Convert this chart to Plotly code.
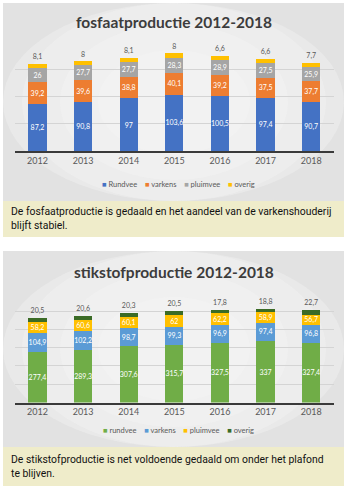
import plotly.graph_objects as go

years = ["2012", "2013", "2014", "2015", "2016", "2017", "2018"]

# fosfaatproductie
f_names = ["Rundvee", "varkens", "pluimvee", "overig"]
f_rundvee = [87.2, 90.8, 97, 103.6, 100.5, 97.4, 90.7]
f_varkens = [39.2, 39.6, 38.8, 40.1, 39.2, 37.5, 37.7]
f_pluimvee = [26, 27.7, 27.7, 28.3, 28.9, 27.5, 25.9]
f_overig = [8.1, 8, 8.1, 8, 6.6, 6.6, 7.7]
f_colors = ["#4472C4", "#ED7D31", "#A5A5A5", "#FFC000"]

# stikstofproductie
s_names = ["rundvee", "varkens", "pluimvee", "overig"]
s_rundvee = [277.4, 289.3, 307.6, 315.7, 327.5, 337, 327.4]
s_varkens = [104.9, 102.2, 98.7, 99.3, 96.9, 97.4, 96.8]
s_pluimvee = [58.2, 60.6, 60.1, 62, 62.2, 58.9, 56.7]
s_overig = [20.5, 20.6, 20.3, 20.5, 17.8, 18.8, 22.7]
s_colors = ["#70AD47", "#5B9BD5", "#FFC000", "#3B6B26"]

titles = ["fosfaatproductie 2012-2018", "stikstofproductie 2012-2018"]
captions = [
    "De fosfaatproductie is gedaald en het aandeel van de varkenshouderij<br>blijft stabiel.",
    "De stikstofproductie is net voldoende gedaald om onder het plafond<br>te blijven.",
]

W, H = 349, 489


def py(p):
    return 1 - p / H


def fmt(v):
    return ("%g" % v).replace(".", ",")


CHART_FONT = "Lato, Carlito, Calibri, sans-serif"
CAP_FONT = "Roboto, sans-serif"

fig = go.Figure()


def add_stack(series, names, colors, xa, ya):
    n = len(series)
    for i, (vals, name, col) in enumerate(zip(series, names, colors)):
        last = i == n - 1
        fig.add_trace(go.Bar(
            x=years, y=vals, name=name, marker=dict(color=col, line=dict(width=0)),
            text=[fmt(v) for v in vals],
            textposition="outside" if last else "inside",
            insidetextanchor="middle",
            textangle=0,
            insidetextfont=dict(color="white", size=7, family=CHART_FONT),
            outsidetextfont=dict(color="#595959", size=7, family=CHART_FONT),
            cliponaxis=False,
            showlegend=False,
            xaxis=xa, yaxis=ya,
        ))


add_stack([f_rundvee, f_varkens, f_pluimvee, f_overig], f_names, f_colors, "x", "y")
add_stack([s_rundvee, s_varkens, s_pluimvee, s_overig], s_names, s_colors, "x2", "y2")

xdom = [14.7 / W, 334 / W]
axis_common_x = dict(
    showline=True, linecolor="#3a3a3a", linewidth=1.5, ticks="",
    tickfont=dict(size=9, color="#595959", family=CHART_FONT),
    showgrid=False, fixedrange=True,
)
axis_common_y = dict(
    showticklabels=False, showgrid=True, gridcolor="#d4d4d4", gridwidth=1,
    zeroline=False, showline=False, ticks="", fixedrange=True,
)

shapes = []
annotations = []

panels = [
    dict(top=3, bottom=201, cap_bottom=237, title_y=22, legend_y=185,
         cap_l1=210, names=f_names, colors=f_colors),
    dict(top=251, bottom=447, cap_bottom=486, title_y=272, legend_y=430,
         cap_l1=458, names=s_names, colors=s_colors),
]

GAP = "&nbsp;" * 4

for k, p in enumerate(panels):
    # panel background with a soft radial highlight
    shapes.append(dict(type="rect", xref="paper", yref="paper", layer="below",
                       x0=3 / W, x1=344 / W, y0=py(p["bottom"]), y1=py(p["top"]),
                       fillcolor="#e2e2e2", line=dict(width=0)))
    cx, cy = 174, (p["top"] + p["bottom"]) / 2
    for r, op in [(1.0, 0.35), (0.8, 0.35), (0.6, 0.35), (0.4, 0.35)]:
        rx = 190 * r
        ry = 130 * r
        shapes.append(dict(type="circle", xref="paper", yref="paper", layer="below",
                           x0=max(3, cx - rx) / W, x1=min(344, cx + rx) / W,
                           y0=py(min(p["bottom"], cy + ry)), y1=py(max(p["top"], cy - ry)),
                           fillcolor="#f6f6f6", opacity=op, line=dict(width=0)))
    # caption box
    shapes.append(dict(type="rect", xref="paper", yref="paper", layer="below",
                       x0=3 / W, x1=344 / W, y0=py(p["cap_bottom"]), y1=py(p["bottom"]),
                       fillcolor="#efecca", line=dict(width=0)))
    annotations.append(dict(text=titles[k], xref="paper", yref="paper",
                            x=174 / W, y=py(p["title_y"]), xanchor="center", yanchor="middle",
                            showarrow=False,
                            font=dict(size=15.5, color="#3c3c3c", family=CHART_FONT, weight="bold")))
    leg = GAP.join(
        f"<span style='color:{c}'>■</span>&nbsp;{n}" for n, c in zip(p["names"], p["colors"]))
    annotations.append(dict(text=leg, xref="paper", yref="paper",
                            x=178 / W, y=py(p["legend_y"]), xanchor="center", yanchor="middle",
                            showarrow=False,
                            font=dict(size=7.5, color="#595959", family=CHART_FONT)))
    annotations.append(dict(text=captions[k], xref="paper", yref="paper",
                            x=9 / W, y=py(p["cap_l1"] - 7), xanchor="left", yanchor="top",
                            align="left", showarrow=False,
                            font=dict(size=10.4, color="#111111", family=CAP_FONT)))

fig.update_layout(
    width=W, height=H,
    margin=dict(l=0, r=0, t=0, b=0),
    paper_bgcolor="white", plot_bgcolor="rgba(0,0,0,0)",
    barmode="stack", bargap=0.6,
    uniformtext=dict(minsize=7, mode="show"),
    xaxis=dict(domain=xdom, anchor="y", **axis_common_x),
    yaxis=dict(domain=[py(151), py(42.5)], range=[0, 200], dtick=50, anchor="x", **axis_common_y),
    xaxis2=dict(domain=xdom, anchor="y2", **axis_common_x),
    yaxis2=dict(domain=[py(402.5), py(292.7)], range=[0, 600], dtick=100, anchor="x2", **axis_common_y),
    shapes=shapes,
    annotations=annotations,
    showlegend=False,
)

fig.write_html("out.html")
